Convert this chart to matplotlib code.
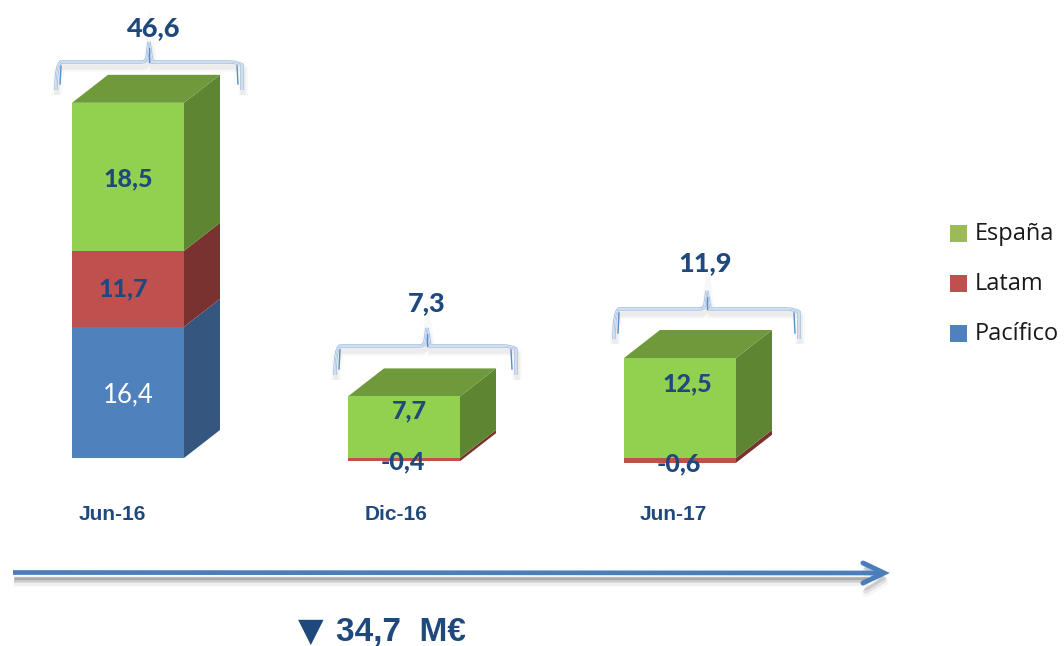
#!/usr/bin/env python3
"""Stacked pseudo-3D bars: Jun-16, Dic-16, Jun-17."""

import matplotlib
matplotlib.use("Agg")
import matplotlib.pyplot as plt
from matplotlib.patches import Polygon, PathPatch, Rectangle
from matplotlib.path import Path

# Data
periods = ["Jun-16", "Dic-16", "Jun-17"]
totals = [46.6, 7.3, 11.9]
espana = [18.5, 7.7, 12.5]
latam = [11.7, -0.4, -0.6]
pacifico = [16.4, 0.0, 0.0]
# the Latam block of the first bar is drawn shorter than its label says
latam_drawn = [9.5, -0.4, -0.6]
legend_names = ["España", "Latam", "Pacífico"]
change_label = "34,7  M€"

NAVY = "#1F497D"
GREEN = ("#92D050", "#6F9A3C", "#5E8531")
RED = ("#C0504D", "#8A3A38", "#7A3230")
BLUE = ("#4F81BD", "#3B6290", "#35567F")
LEGEND_GREEN = "#9BBB59"

W, H = 1064, 646
X_SCALE = 276.0   # px per category
Y_SCALE = 8.0     # px per unit
BAR_W = 112 / X_SCALE
DX = 36 / X_SCALE
DY = 28 / Y_SCALE


def fmt(v):
    return f"{v:.1f}".replace(".", ",")


fig = plt.figure(figsize=(W / 100, H / 100), dpi=100)

# data axes, category 0 centred on px 128 and value 0 on px 458
ax = fig.add_axes([0, 0, 1, 1])
ax.set_xlim(-128 / X_SCALE, (W - 128) / X_SCALE)
ax.set_ylim(-(H - 458) / Y_SCALE, 458 / Y_SCALE)
ax.axis("off")

# overlay in pixels for the annotation furniture
ov = fig.add_axes([0, 0, 1, 1], facecolor="none")
ov.set_xlim(0, W)
ov.set_ylim(H, 0)
ov.axis("off")


def block(i, y0, y1, cols, top=False, z=2):
    x0 = i - BAR_W / 2
    x1 = i + BAR_W / 2
    ax.bar(i, y1 - y0, BAR_W, bottom=y0, color=cols[0], edgecolor="none", zorder=z + 1)
    ax.add_patch(Polygon([(x1, y0), (x1 + DX, y0 + DY), (x1 + DX, y1 + DY), (x1, y1)],
                         closed=True, facecolor=cols[2], edgecolor="none", zorder=z))
    if top:
        ax.add_patch(Polygon([(x0, y1), (x0 + DX, y1 + DY), (x1 + DX, y1 + DY), (x1, y1)],
                             closed=True, facecolor=cols[1], edgecolor="none", zorder=z))


for i in range(len(periods)):
    if latam_drawn[i] < 0:
        block(i, latam_drawn[i], 0, RED, z=2)
        block(i, 0, espana[i], GREEN, top=True, z=4)
    else:
        b = pacifico[i]
        block(i, 0, b, BLUE, z=2)
        block(i, b, b + latam_drawn[i], RED, z=4)
        block(i, b + latam_drawn[i], b + latam_drawn[i] + espana[i], GREEN, top=True, z=6)


def brace(xl, xr, xc, y, tip, end):
    verts = [(xl, end), (xl, y + 3), (xl + 5, y), (xl + 12, y),
             (xc - 8, y), (xc - 3, y), (xc - 2, y - 4), (xc, tip),
             (xc + 2, y - 4), (xc + 3, y), (xc + 8, y),
             (xr - 12, y), (xr - 5, y), (xr, y + 3), (xr, end)]
    codes = [Path.MOVETO, Path.CURVE3, Path.CURVE3, Path.LINETO,
             Path.LINETO, Path.CURVE3, Path.CURVE3, Path.LINETO,
             Path.CURVE3, Path.CURVE3, Path.LINETO,
             Path.LINETO, Path.CURVE3, Path.CURVE3, Path.LINETO]
    path = Path(verts, codes)
    shadow = Path([(v[0] + 1, v[1] + 5) for v in verts], codes)
    for lw, a in ((7, 0.04), (4, 0.07)):
        ov.add_patch(PathPatch(shadow, fill=False, edgecolor="#555555", lw=lw, alpha=a))
    ov.add_patch(PathPatch(path, fill=False, edgecolor="#A9C3E2", lw=2.6))
    ov.add_patch(PathPatch(path, fill=False, edgecolor="white", lw=1.2))
    ov.add_patch(PathPatch(path, fill=False, edgecolor="#6F9BD1", lw=0.5, alpha=0.7))
    # darker strokes at the ends and in the tip
    ov.plot([xl + 4, xl + 5], [end - 6, y + 4], color="#5B8CC8", lw=1.0)
    ov.plot([xr - 4, xr - 5], [end - 6, y + 4], color="#5B8CC8", lw=1.0)
    ov.plot([xc, xc], [y, tip + 6], color="#5B8CC8", lw=1.0)


brace(56, 242, 149, 62, 42, 90)
brace(335, 516, 427, 346, 328, 375)
brace(614, 799, 707, 309, 291, 339)

label_kw = dict(ha="center", va="center", family="Lato", fontweight="black", color=NAVY)

for (x, y), v in zip([(153, 28), (427, 303), (705, 263)], totals):
    ov.text(x, y, fmt(v), fontsize=19.5, **label_kw)

for (x, y), v in zip([(128, 179), (409, 411), (687, 384)], espana):
    ov.text(x, y, fmt(v), fontsize=18, zorder=10, **label_kw)

for (x, y), v in zip([(123, 289), (403, 462), (679, 464)], latam):
    ov.text(x, y, fmt(v), fontsize=18, zorder=10, **label_kw)

ov.text(128, 395, fmt(pacifico[0]), fontsize=18.5, ha="center", va="center",
        family="Lato", color="white", zorder=10)

for x, name in zip([112, 396, 673], periods):
    ov.text(x, 515, name, fontsize=15, ha="center", va="center",
            family="Liberation Sans", fontweight="bold", color=NAVY)

# legend
for y, name, c in zip([233, 283, 333], legend_names, [LEGEND_GREEN, RED[0], BLUE[0]]):
    ov.add_patch(Rectangle((950, y - 8.5), 17, 17, facecolor=c, edgecolor="none"))
    ov.text(975, y + 1, name, fontsize=17, ha="left", va="center",
            family="Open Sans", color="#1A1A1A")

# long arrow
ARROW = "#4A7EBB"
for off, lw, a in ((9, 6, 0.08), (7, 4, 0.18), (5, 2.5, 0.25)):
    ov.plot([14, 868], [573 + off, 573 + off], color="#444444", lw=lw, alpha=a,
            solid_capstyle="butt")
    ov.plot([866, 884, 866], [563 + off, 573 + off, 584 + off], color="#444444",
            lw=lw, alpha=a * 0.6, solid_capstyle="round")
ov.plot([13, 882], [572.5, 573], color=ARROW, lw=3.4, solid_capstyle="butt")
ov.plot([863, 884, 863], [563, 573, 583], color=ARROW, lw=3.6,
        solid_capstyle="round", solid_joinstyle="miter")

# variation
ov.text(311, 631, "▼", fontsize=24, ha="center", va="center",
        family="DejaVu Sans", color=NAVY)
ov.text(336, 632, change_label, fontsize=24, ha="left", va="center",
        family="Liberation Sans", fontweight="bold", color=NAVY)

fig.savefig("out.png", dpi=100, facecolor="white")
